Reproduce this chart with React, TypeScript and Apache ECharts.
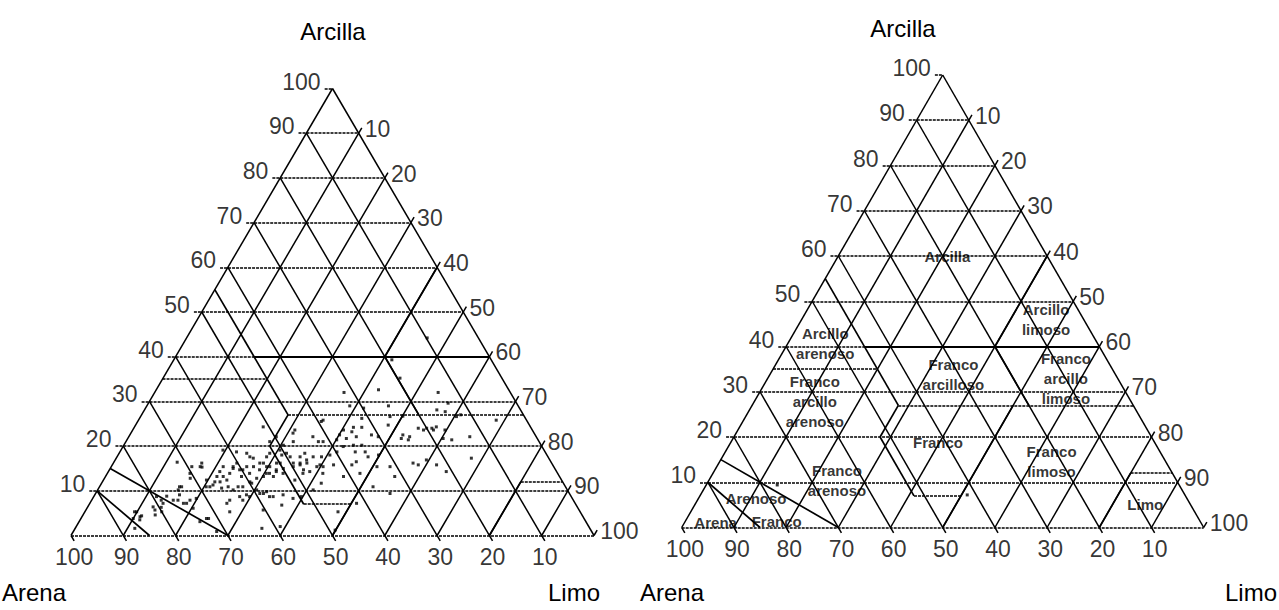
import React, { useEffect, useRef } from "react";
import * as echarts from "echarts";

const FUENTE = "'Liberation Sans', Arial, Helvetica, sans-serif";

// Grid steps inside each triangle and the labelled ticks on every side
const pasos = [10, 20, 30, 40, 50, 60, 70, 80, 90];
const marcas = [10, 20, 30, 40, 50, 60, 70, 80, 90, 100];

// Soil samples as [arena %, arcilla %]; limo is the remainder to 100 %
const muestras: [number, number][] = [
  [71.5, 16.4], [66.9, 16.2], [67.3, 15.3], [70.3, 13.9], [70.8, 12.8], [73.8, 10.9],
  [74.4, 10.2], [77.3, 8.8], [78.8, 7.9], [76.5, 7.9], [75.6, 7.9], [79.6, 6.3],
  [81.1, 5.7], [84.8, 5.3], [84.7, 4.2], [86.2, 3.8], [87.0, 1.6], [84.3, 4.4],
  [80.0, 5.3], [74.9, 7.2], [73.3, 7.9], [71.9, 8.3], [71.8, 3.8], [71.7, 0.9],
  [67.9, 12.4], [68.0, 10.9], [66.5, 12.0], [65.5, 13.2], [64.4, 14.3], [63.2, 15.4],
  [64.0, 12.4], [62.7, 13.9], [61.5, 15.0], [60.2, 16.2], [64.5, 10.9], [65.9, 10.6],
  [63.9, 10.2], [62.6, 10.9], [60.8, 13.2], [59.8, 14.7], [58.7, 15.4], [58.9, 13.9],
  [59.6, 11.7], [58.1, 12.8], [56.6, 14.7], [55.1, 16.2], [55.7, 13.9], [54.3, 15.4],
  [54.7, 13.2], [53.4, 14.7], [51.9, 16.2], [52.5, 13.9], [49.3, 17.6], [49.4, 16.2],
  [48.3, 15.8], [48.2, 14.7], [59.4, 10.2], [58.5, 9.4], [57.7, 8.7], [61.9, 9.1],
  [66.6, 7.2], [67.0, 5.3], [63.2, 7.9], [56.3, 6.8], [62.7, 1.6], [59.0, 2.0],
  [51.1, 24.3], [46.1, 22.9], [49.7, 22.1], [61.4, 19.1], [59.0, 18.7], [57.2, 18.4],
  [56.5, 17.3], [52.8, 18.4], [50.7, 18.0], [57.0, 17.6], [53.8, 17.6], [50.5, 19.1],
  [49.6, 18.4], [52.6, 16.2], [54.9, 15.4], [55.8, 16.2], [57.4, 15.4], [60.4, 14.7],
  [61.3, 15.4], [64.3, 13.2], [65.5, 12.0], [67.2, 11.3], [68.7, 10.9], [67.6, 15.4],
  [73.4, 10.9], [61.7, 10.9], [59.8, 12.0], [56.6, 13.2], [55.1, 13.9], [53.6, 14.3],
  [51.9, 15.0], [49.8, 15.4], [48.1, 16.2], [46.5, 16.9], [44.9, 17.6], [44.5, 15.8],
  [59.2, 9.4], [57.7, 9.8], [57.0, 8.7], [54.9, 9.1], [53.4, 8.3], [65.7, 7.9],
  [63.4, 8.7], [61.5, 8.7], [60.4, 5.7], [42.7, 22.1], [38.9, 25.8], [47.0, 21.0],
  [51.5, 21.0], [49.3, 20.2], [69.2, 15.4], [74.7, 9.1], [79.3, 8.7], [74.3, 7.2],
  [78.8, 7.2], [85.2, 5.3], [81.1, 6.4], [81.6, 4.6], [85.1, 3.5], [73.6, 6.1],
  [73.8, 3.1], [72.2, 3.8], [19.5, 35.2], [24.9, 32.6], [31.8, 32.0], [13.8, 32.0],
  [13.1, 29.6], [16.0, 28.1], [14.6, 27.7], [13.0, 26.6], [12.0, 27.0], [32.2, 29.0],
  [29.8, 28.5], [24.8, 29.0], [25.7, 26.6], [23.2, 26.7], [31.3, 26.2], [39.4, 25.5],
  [27.0, 24.7], [33.9, 24.2], [32.3, 24.2], [36.1, 23.6], [37.4, 22.5], [34.7, 23.2],
  [34.4, 22.1], [36.5, 21.7], [31.3, 22.5], [30.2, 22.1], [25.3, 22.5], [24.8, 21.4],
  [20.8, 23.6], [20.0, 24.0], [19.0, 24.0], [18.0, 24.3], [21.6, 24.0], [18.0, 21.7],
  [16.5, 21.4], [12.7, 22.1], [45.4, 23.6], [41.3, 21.0], [42.2, 21.0], [38.5, 21.4],
  [38.0, 19.9], [35.9, 20.2], [34.3, 20.2], [34.4, 18.7], [36.3, 18.7], [39.8, 18.7],
  [41.5, 18.0], [43.3, 17.6], [46.1, 18.4], [47.4, 17.6], [46.8, 16.2], [45.3, 15.4],
  [44.1, 15.4], [41.9, 15.8], [38.4, 15.8], [37.2, 16.5], [34.4, 17.6], [32.2, 18.0],
  [33.8, 15.4], [31.3, 15.4], [26.5, 16.2], [25.7, 15.8], [23.6, 16.9], [22.2, 15.8],
  [21.1, 14.3], [14.8, 17.3], [48.7, 13.9], [47.2, 14.3], [44.9, 13.9], [41.3, 13.2],
  [37.8, 13.9], [36.8, 10.9], [46.3, 11.7], [51.0, 12.4], [48.6, 10.2], [34.3, 9.4],
  [51.6, 8.7], [41.8, 7.2], [46.3, 5.3], [5.8, 25.8], [16.7, 23.6], [18.9, 23.6],
  [26.0, 21.7], [24.2, 22.1], [31.5, 13.2], [19.0, 39.3], [48.9, 1.2], [9.8, 44.2],
];

// Two stray samples on the classification triangle
const muestrasSueltas: [number, number][] = [
  [77.0, 9.4],
  [41.7, 7.2],
];

// USDA texture-class limits, end points as [arena, arcilla]
const limitesOblicuos: [number, number][][] = [
  [[45, 55], [45, 27]],
  [[52, 20], [45, 27]],
  [[52, 20], [52, 7]],
  [[50, 0], [23, 27]],
  [[20, 27], [20, 40]],
  [[20, 40], [0, 60]],
  [[20, 0], [8, 12]],
  [[85, 15], [70, 0]],
  [[90, 10], [85, 0]],
];
const limitesHorizontales: [number, number][][] = [
  [[65, 35], [45, 35]],
  [[45, 27], [0, 27]],
  [[52, 7], [43, 7]],
  [[8, 12], [0, 12]],
];
const limiteArcilla: [number, number][][] = [[[45, 40], [0, 40]]];

// Class names placed at [arena, arcilla]
const clases = [
  { nombre: "Arcilla", arena: 19.2, arcilla: 59.8 },
  { nombre: "Arcillo\nlimoso", arena: 7.2, arcilla: 46.0 },
  { nombre: "Arcillo\narenoso", arena: 52.2, arcilla: 40.6 },
  { nombre: "Franco\narcilloso", arena: 31.0, arcilla: 33.9 },
  { nombre: "Franco\narcillo\nlimoso", arena: 9.9, arcilla: 33.0 },
  { nombre: "Franco\narcillo\narenoso", arena: 60.6, arcilla: 27.8 },
  { nombre: "Franco", arena: 41.5, arcilla: 18.8 },
  { nombre: "Franco\nlimoso", arena: 21.9, arcilla: 14.5 },
  { nombre: "Franco\narenoso", arena: 65.1, arcilla: 10.3 },
  { nombre: "Limo", arena: 8.7, arcilla: 5.0 },
  { nombre: "Arenoso", arena: 82.6, arcilla: 6.3 },
  { nombre: "Franco", arena: 81.1, arcilla: 1.4 },
  { nombre: "Arena", arena: 92.9, arcilla: 1.2 },
];

// Pixel frame of each triangle: left corner, base line, side length and height
const triangulos = [
  { x0: 71, base: 535.5, ancho: 523, alto: 447 },
  { x0: 681.7, base: 527.5, ancho: 522, alto: 452.5 },
];

const PAD = 5; // axis padding (percent units) so ticks stay inside the grid
const TICK_H = 1.5; // length of the horizontal clay ticks
const TICK_D = 1.2; // length of the slanted silt / sand ticks

// ternary (arena, arcilla) -> cartesian (x along the base, y = arcilla)
function xy(arena: number, arcilla: number): [number, number] {
  return [100 - arena - arcilla / 2, arcilla];
}

function segmentos(lista: [number, number][][]) {
  return lista.map((s) => ({ coords: s.map(([a, c]) => xy(a, c)) }));
}

function serieLineas(grid: number, lista: [number, number][][], estilo: any) {
  return {
    type: "lines",
    coordinateSystem: "cartesian2d",
    xAxisIndex: grid,
    yAxisIndex: grid,
    polyline: false,
    silent: true,
    lineStyle: { color: "#000", opacity: 1, curveness: 0, ...estilo },
    data: segmentos(lista),
  };
}

function serieEtiquetas(grid: number, puntos: { p: [number, number]; t: string }[], label: any) {
  return {
    type: "scatter",
    xAxisIndex: grid,
    yAxisIndex: grid,
    silent: true,
    clip: false,
    symbolSize: 0,
    itemStyle: { color: "rgba(0,0,0,0)" },
    label: {
      show: true,
      formatter: "{b}",
      color: "#000",
      fontFamily: FUENTE,
      ...label,
    },
    data: puntos.map((d) => ({ name: d.t, value: xy(d.p[0], d.p[1]) })),
  };
}

function seriesTriangulo(g: number) {
  const horizontales: [number, number][][] = pasos.map((k) => [
    [100 - k + TICK_H, k],
    [0, k],
  ]);
  horizontales.push([[TICK_H, 100], [0, 100]]);
  horizontales.push([[100, 0], [0, 0]]);

  const oblicuas: [number, number][][] = [];
  pasos.forEach((k) => {
    // constant limo
    oblicuas.push([[100 - k, 0], [-TICK_D, 100 - k + TICK_D]]);
    // constant arena
    oblicuas.push([[k, 100 - k], [k, -TICK_D]]);
  });
  oblicuas.push([[100, 0], [0, 100]]);
  oblicuas.push([[0, 0], [0, 100]]);
  oblicuas.push([[0, 0], [-TICK_D, TICK_D]]);
  oblicuas.push([[100, 0], [100, -TICK_D]]);

  const fuenteMarcas = { fontSize: 23 };
  return [
    serieLineas(g, horizontales, { width: 1.6, type: [3, 1] }),
    serieLineas(g, oblicuas, { width: 1.5, type: "solid" }),
    serieLineas(g, limitesHorizontales, { width: 1.6, type: [3, 1] }),
    serieLineas(g, limitesOblicuos, { width: 1.7, type: "solid" }),
    serieLineas(g, limiteArcilla, { width: 2, type: "solid" }),
    serieEtiquetas(
      g,
      marcas.map((k) => ({ p: [100 - k + TICK_H, k] as [number, number], t: String(k) })),
      { ...fuenteMarcas, position: "left", distance: 4, offset: [0, -7] }
    ),
    serieEtiquetas(
      g,
      marcas.map((k) => ({ p: [-TICK_D, 100 - k + TICK_D] as [number, number], t: String(k) })),
      { ...fuenteMarcas, position: "right", distance: 3, offset: [0, 1] }
    ),
    serieEtiquetas(
      g,
      marcas.map((k) => ({ p: [k, -TICK_D] as [number, number], t: String(k) })),
      { ...fuenteMarcas, position: "bottom", distance: 5 }
    ),
  ];
}

function serieMuestras(g: number, datos: [number, number][]) {
  return {
    type: "scatter",
    xAxisIndex: g,
    yAxisIndex: g,
    silent: true,
    clip: false,
    symbol: "rect",
    symbolSize: 3,
    itemStyle: { color: "#000" },
    data: datos.map(([a, c]) => xy(a, c)),
  };
}

function textoEje(texto: string, x: number, y: number, align: string) {
  return {
    type: "text",
    x,
    y,
    silent: true,
    style: {
      text: texto,
      fontSize: 24,
      fontFamily: FUENTE,
      fill: "#000",
      textAlign: align,
      textVerticalAlign: "middle",
    },
  };
}

export default function App() {
  const ref = useRef<HTMLDivElement>(null);

  useEffect(() => {
    if (!ref.current) return;
    const chart = echarts.init(ref.current, undefined, { renderer: "svg" });

    const grids = triangulos.map((t) => {
      const ux = t.ancho / 100;
      const uy = t.alto / 100;
      return {
        left: t.x0 - PAD * ux,
        top: t.base - t.alto - PAD * uy,
        width: t.ancho + 2 * PAD * ux,
        height: t.alto + 2 * PAD * uy,
        show: false,
      };
    });
    const eje = (i: number) => ({
      type: "value",
      gridIndex: i,
      min: -PAD,
      max: 100 + PAD,
      show: false,
    });

    chart.setOption({
      animation: false,
      backgroundColor: "#fff",
      grid: grids,
      xAxis: [eje(0), eje(1)],
      yAxis: [eje(0), eje(1)],
      series: [
        ...seriesTriangulo(0),
        serieMuestras(0, muestras),
        ...seriesTriangulo(1),
        serieMuestras(1, muestrasSueltas),
        serieEtiquetas(
          1,
          clases.map((c) => ({ p: [c.arena, c.arcilla] as [number, number], t: c.nombre })),
          { position: "inside", fontSize: 15, fontWeight: "bold", lineHeight: 20 }
        ),
      ],
      graphic: [
        textoEje("Arcilla", 333, 31, "center"),
        textoEje("Arena", 2, 592, "left"),
        textoEje("Limo", 600, 592, "right"),
        textoEje("Arcilla", 903, 28, "center"),
        textoEje("Arena", 640, 592, "left"),
        textoEje("Limo", 1277, 592, "right"),
      ],
    });

    return () => chart.dispose();
  }, []);

  return (
    <div
      ref={ref}
      style={{ position: "absolute", left: 0, top: 0, width: 1279, height: 610 }}
    />
  );
}
